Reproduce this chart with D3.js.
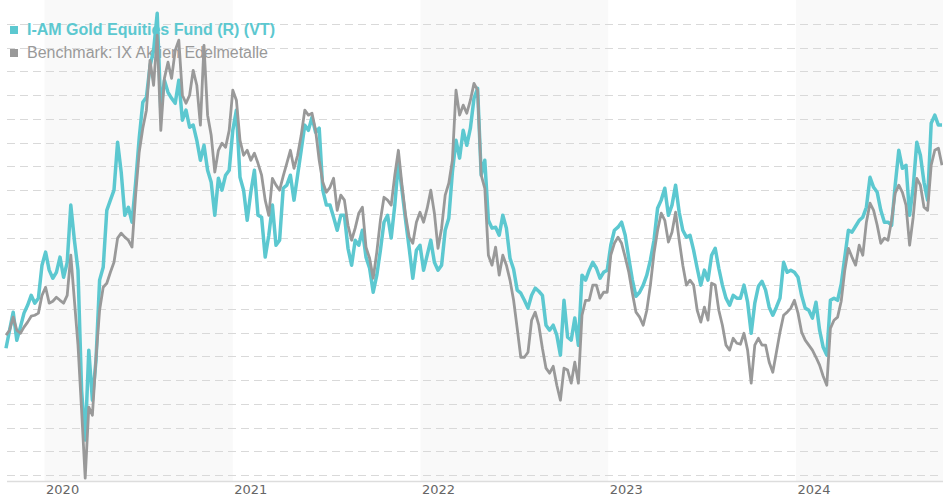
<!DOCTYPE html>
<html>
<head>
<meta charset="utf-8">
<script src="https://cdn.jsdelivr.net/npm/d3@7"></script>
<style>
  body { margin: 0; background: #fff; }
  svg { display: block; }
</style>
</head>
<body>
<script>
// weekly closes, first one on 18 Oct 2019
var startDate = new Date(2019, 9, 18);
var endDate = new Date(2024, 9, 11);
var stepDays = 7;

var seriesNames = ["I-AM Gold Equities Fund (R) (VT)", "Benchmark: IX Aktien Edelmetalle"];
var shadedYears = [2020, 2022, 2024];
var gridValues = d3.range(40, 231, 10);

var fundValues = [
  93.4, 101.0, 108.6, 96.8, 102.3, 108.2, 111.5, 115.7, 112.4, 114.5,
  128.4, 133.9, 126.3, 122.9, 125.4, 131.8, 123.3, 129.6, 153.7, 138.9,
  126.3, 75.7, 54.7, 92.6, 71.5, 88.4, 122.1, 127.5, 151.5, 155.8,
  160.0, 180.2, 167.6, 149.4, 152.8, 146.5, 162.9, 181.9, 197.0, 199.1,
  212.2, 218.9, 234.5, 193.7, 206.3, 201.2, 198.7, 196.6, 206.3, 189.5,
  193.7, 186.5, 187.4, 181.0, 172.6, 178.9, 168.4, 163.3, 149.4, 165.0,
  160.0, 166.3, 168.4, 185.2, 193.7, 165.4, 160.0, 147.3, 159.1, 168.4,
  149.4, 148.6, 131.8, 141.0, 153.7, 136.8, 138.9, 160.8, 162.1, 166.3,
  155.8, 166.3, 176.8, 187.4, 185.2, 190.7, 184.4, 186.1, 160.0, 153.7,
  153.7, 148.6, 143.1, 149.4, 149.4, 135.5, 128.4, 138.9, 136.8, 143.1,
  131.8, 127.1, 117.0, 124.2, 134.7, 146.5, 149.4, 139.8, 153.7, 171.8,
  160.0, 147.3, 135.5, 122.9, 134.7, 136.8, 126.3, 132.6, 138.9, 129.6,
  126.3, 128.4, 143.1, 148.2, 167.6, 181.0, 173.5, 185.2, 178.9, 186.1,
  198.7, 202.9, 166.3, 172.6, 147.3, 144.0, 144.4, 141.0, 149.4, 144.0,
  131.3, 126.7, 117.9, 116.6, 113.6, 110.3, 115.7, 118.7, 117.4, 115.7,
  103.1, 101.0, 103.1, 98.9, 90.5, 113.6, 98.1, 96.8, 106.1, 94.7,
  124.2, 122.1, 126.3, 129.6, 127.1, 122.9, 125.4, 126.3, 136.8, 143.1,
  144.4, 146.5, 141.0, 131.3, 122.1, 115.3, 117.0, 120.0, 124.2, 130.5,
  138.9, 152.4, 155.8, 160.8, 149.4, 153.7, 162.1, 150.7, 143.1, 140.2,
  141.0, 134.7, 127.1, 120.0, 126.3, 122.1, 132.6, 135.5, 127.1, 120.0,
  114.5, 111.5, 115.7, 114.5, 114.5, 120.0, 112.8, 99.7, 112.4, 119.5,
  121.6, 117.9, 110.7, 107.3, 110.7, 114.5, 129.6, 125.4, 126.3, 125.4,
  123.3, 115.7, 110.3, 109.4, 106.1, 112.8, 101.0, 93.8, 90.5, 113.6,
  114.5, 113.6, 120.4, 131.8, 143.1, 142.3, 144.8, 147.3, 148.6, 152.8,
  165.4, 161.2, 159.1, 151.5, 146.5, 146.5, 145.2, 162.1, 176.8, 169.2,
  170.5, 149.4, 161.2, 180.2, 174.7, 163.3, 155.8, 188.2, 191.6, 187.4,
  187.4
];

var benchValues = [
  98.9, 101.0, 106.5, 101.0, 99.7, 102.3, 104.4, 106.9, 107.3, 108.2,
  115.7, 119.1, 112.4, 113.2, 114.9, 113.6, 112.4, 115.7, 132.6, 113.6,
  94.7, 67.3, 38.7, 68.6, 65.2, 89.2, 109.4, 119.1, 120.8, 125.4,
  129.6, 139.8, 141.9, 140.2, 138.9, 136.0, 157.9, 176.0, 186.1, 193.7,
  214.7, 204.2, 225.3, 185.2, 207.1, 213.9, 207.1, 218.9, 223.2, 200.0,
  196.6, 200.0, 210.5, 204.2, 187.4, 221.0, 191.6, 183.1, 167.6, 176.8,
  179.8, 178.1, 185.2, 202.1, 197.9, 181.0, 174.7, 176.8, 172.6, 175.6,
  171.3, 166.3, 155.8, 149.4, 165.0, 162.1, 160.0, 165.9, 171.3, 176.8,
  169.2, 174.7, 183.1, 193.7, 191.6, 192.4, 185.2, 172.6, 163.3, 159.1,
  161.2, 165.0, 151.5, 157.9, 155.8, 145.2, 138.9, 144.0, 150.3, 152.8,
  136.0, 131.3, 122.9, 133.9, 147.3, 157.0, 155.8, 153.7, 166.3, 176.8,
  162.1, 149.4, 140.2, 137.6, 146.5, 150.7, 146.5, 152.4, 160.0, 150.3,
  135.5, 144.0, 157.9, 162.9, 172.6, 202.1, 191.6, 195.8, 192.4, 197.9,
  205.0, 202.1, 166.3, 160.8, 132.6, 128.4, 136.0, 124.2, 132.6, 128.4,
  122.1, 113.6, 101.8, 89.6, 89.6, 91.7, 105.2, 108.6, 103.1, 93.4,
  85.0, 82.9, 85.8, 77.8, 71.5, 85.0, 84.2, 78.7, 87.5, 78.7,
  107.3, 113.6, 113.6, 120.0, 120.0, 114.5, 117.0, 117.0, 132.6, 137.6,
  140.2, 137.6, 131.8, 125.4, 116.6, 108.6, 106.5, 103.1, 109.4, 120.0,
  133.4, 143.1, 150.3, 147.3, 138.1, 142.3, 150.7, 138.9, 128.4, 120.0,
  122.1, 120.0, 109.4, 104.4, 110.7, 105.2, 120.8, 120.0, 109.4, 103.1,
  94.7, 92.6, 97.6, 95.5, 95.1, 99.7, 92.6, 78.7, 94.7, 97.6,
  94.7, 94.7, 87.5, 83.3, 91.7, 100.2, 107.3, 108.6, 110.3, 113.6,
  108.2, 100.2, 96.8, 94.7, 92.6, 89.6, 86.3, 81.6, 77.8, 101.8,
  105.2, 106.5, 113.2, 126.3, 135.5, 131.8, 128.4, 136.8, 132.6, 146.5,
  154.5, 151.5, 145.2, 137.6, 139.8, 138.9, 147.3, 158.7, 162.1, 159.1,
  153.7, 136.8, 148.6, 165.0, 162.1, 152.8, 151.5, 170.5, 176.8, 177.7,
  170.5
];

var dates = fundValues.map(function(d, i) { return d3.timeDay.offset(startDate, i * stepDays); });

var width = 943;
var height = 500;
var fundColor = "#5cc8d0";
var benchColor = "#999999";

var x = d3.scaleTime()
        .domain([startDate, endDate])
        .range([6, 942]);

var y = d3.scaleLinear()
        .domain([40, 230])
        .range([475, 24]);

var svg = d3.select("body")
            .append("svg")
            .attr("width", width)
            .attr("height", height);

// shaded years
svg.selectAll("rect.band")
    .data(shadedYears)
    .enter()
    .append("rect")
    .attr("class", "band")
    .attr("x", function(d) { return x(new Date(d, 0, 1)); })
    .attr("y", 0)
    .attr("width", function(d) { return Math.min(x(new Date(d + 1, 0, 1)), width) - x(new Date(d, 0, 1)); })
    .attr("height", 481)
    .style("fill", "#f9f9f9");

// dashed grid
svg.selectAll("line.grid")
    .data(gridValues)
    .enter()
    .append("line")
    .attr("class", "grid")
    .attr("x1", 7)
    .attr("x2", width)
    .attr("y1", function(d) { return Math.round(y(d)) + 0.5; })
    .attr("y2", function(d) { return Math.round(y(d)) + 0.5; })
    .style("stroke", "#d9d9d9")
    .style("stroke-dasharray", "8,5");

var xAxis = d3.axisBottom(x)
            .ticks(d3.timeYear.every(1))
            .tickFormat(d3.timeFormat("%Y"))
            .tickSize(0)
            .tickPadding(3);

var gx = svg.append("g")
    .attr("transform", "translate(0,481.5)")
    .call(xAxis);

gx.select(".domain")
    .attr("d", "M7,0H" + width)
    .style("stroke", "#dddddd")
    .style("stroke-width", 1.5);

gx.selectAll("text")
    .attr("text-anchor", "start")
    .attr("x", 1)
    .style("font-family", "'DejaVu Sans', Verdana, sans-serif")
    .style("font-size", "13px")
    .style("fill", "#666");

// legend (the lines run over it)
var legend = svg.append("g");
var legendColors = [fundColor, benchColor];

legend.selectAll("rect")
    .data(seriesNames)
    .enter()
    .append("rect")
    .attr("x", 10)
    .attr("y", function(d, i) { return 26 + i * 23; })
    .attr("width", 8)
    .attr("height", 8)
    .style("fill", function(d, i) { return legendColors[i]; });

legend.selectAll("text")
    .data(seriesNames)
    .enter()
    .append("text")
    .attr("x", 27)
    .attr("y", function(d, i) { return 35 + i * 23; })
    .text(function(d) { return d; })
    .style("font-family", "'Liberation Sans', Arial, sans-serif")
    .style("font-size", "16px")
    .style("font-weight", function(d, i) { return i == 0 ? "bold" : "normal"; })
    .style("fill", function(d, i) { return legendColors[i]; });

var line = d3.line()
            .x(function(d, i) { return x(dates[i]); })
            .y(function(d) { return y(d); });

svg.append("path")
    .datum(fundValues)
    .attr("d", line)
    .style("fill", "none")
    .style("stroke", fundColor)
    .style("stroke-width", 3.5)
    .style("stroke-linejoin", "round");

svg.append("path")
    .datum(benchValues)
    .attr("d", line)
    .style("fill", "none")
    .style("stroke", benchColor)
    .style("stroke-width", 2.8)
    .style("stroke-linejoin", "round");
</script>
</body>
</html>
